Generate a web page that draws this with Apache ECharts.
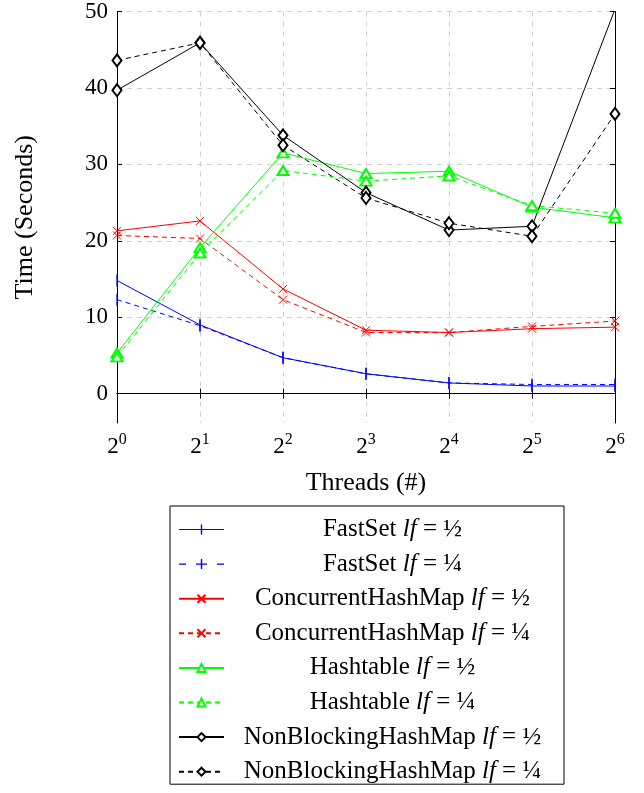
<!DOCTYPE html>
<html><head><meta charset="utf-8">
<script src="https://cdn.jsdelivr.net/npm/echarts@6/dist/echarts.min.js"></script>
<style>html,body{margin:0;padding:0;background:#fff}#c{width:644px;height:793px}</style>
</head><body><div id="c"></div>
<script>
const threads = [1, 2, 4, 8, 16, 32, 64];
const yTicks = [0, 10, 20, 30, 40, 50];
const fastSetHalf    = [14.8, 9.0, 4.7, 2.6, 1.4, 1.0, 1.0];
const fastSetQuarter = [12.3, 8.9, 4.7, 2.6, 1.4, 1.2, 1.2];
const chmHalf        = [21.3, 22.6, 13.7, 8.3, 8.0, 8.5, 8.7];
const chmQuarter     = [20.7, 20.3, 12.3, 8.0, 8.0, 8.8, 9.5];
const htHalf         = [5.3, 19.1, 31.5, 28.8, 29.1, 24.4, 23.0];
const htQuarter      = [4.8, 18.4, 29.2, 27.8, 28.5, 24.6, 23.6];
const nbhmHalf       = [39.7, 45.9, 33.8, 26.3, 21.4, 21.9, 50.3];
const nbhmQuarter    = [43.6, 45.9, 32.5, 25.6, 22.3, 20.6, 36.6];

const FONT = '"Liberation Serif", "DejaVu Serif", serif';
const pair = arr => threads.map((t, i) => [t, arr[i]]);
const nameOf = (base, frac) => base + ' lf = ' + frac;

const markers = {
  bar: 'rect',
  cross: 'path://M0,0L10,10M0,10L10,0',
  tri: 'emptyTriangle',
  dia: 'emptyDiamond'
};
// legend icons for the '|' mark (line sample + vertical tick), drawn in a 45x10 box
const barIconSolid = 'path://M0,4.5L45,4.5L45,5.6L0,5.6ZM21.8,0L23.2,0L23.2,10L21.8,10Z';
const barIconDashed = 'path://M0,4.5L7,4.5L7,5.6L0,5.6ZM17,4.5L28,4.5L28,5.6L17,5.6ZM38,4.5L45,4.5L45,5.6L38,5.6ZM21.8,0L23.2,0L23.2,10L21.8,10Z';

function mk(name, data, color, dashed, sym, size, filled) {
  return {
    name: name, type: 'line', data: pair(data),
    lineStyle: { color: color, width: 1, type: dashed ? [5, 4] : 'solid' },
    symbol: sym, symbolSize: size, showSymbol: true,
    clip: true,
    itemStyle: filled ? { color: color } : { color: color, borderColor: color, borderWidth: 1 },
    emphasis: { disabled: true }, animation: false, z: 3
  };
}

const series = [
  mk(nameOf('FastSet', '½'), fastSetHalf, '#0000ff', false, markers.bar, [1.3, 12], true),
  mk(nameOf('FastSet', '¼'), fastSetQuarter, '#0000ff', true, markers.bar, [1.3, 12], true),
  mk(nameOf('ConcurrentHashMap', '½'), chmHalf, '#ff0000', false, markers.cross, 8, false),
  mk(nameOf('ConcurrentHashMap', '¼'), chmQuarter, '#ff0000', true, markers.cross, 8, false),
  mk(nameOf('Hashtable', '½'), htHalf, '#00ff00', false, markers.tri, [11, 9], false),
  mk(nameOf('Hashtable', '¼'), htQuarter, '#00ff00', true, markers.tri, [11, 9], false),
  mk(nameOf('NonBlockingHashMap', '½'), nbhmHalf, '#000000', false, markers.dia, [9, 12], false),
  mk(nameOf('NonBlockingHashMap', '¼'), nbhmQuarter, '#000000', true, markers.dia, [9, 12], false)
];

const legendData = series.map((s, i) => {
  if (i === 0) return { name: s.name, icon: barIconSolid, itemStyle: { color: '#0000ff', borderWidth: 0 } };
  if (i === 1) return { name: s.name, icon: barIconDashed, itemStyle: { color: '#0000ff', borderWidth: 0 } };
  return { name: s.name };
});

const gridLine = { show: true, lineStyle: { color: '#cfcfcf', type: [5, 5], width: 1 } };
const axLine = { show: true, lineStyle: { color: '#000', width: 1 } };

const chart = echarts.init(document.getElementById('c'), null, { renderer: 'canvas' });
chart.setOption({
  backgroundColor: '#fff',
  animation: false,
  grid: { left: 117, right: 29, top: 10, bottom: 370 },
  xAxis: [{
    type: 'log', logBase: 2, min: 1, max: 64, splitNumber: 6,
    name: 'Threads (#)', nameLocation: 'middle', nameGap: 47,
    nameTextStyle: { fontFamily: FONT, fontSize: 26, color: '#000' },
    axisLine: axLine,
    axisTick: { show: true, inside: true, length: 5, lineStyle: { color: '#000' } },
    splitLine: gridLine,
    minorTick: { show: false },
    axisLabel: {
      margin: 9, color: '#000',
      formatter: v => '{b|2}{s|' + Math.round(Math.log2(v)) + '}',
      rich: {
        b: { fontFamily: FONT, fontSize: 23, color: '#000', verticalAlign: 'bottom', lineHeight: 26 },
        s: { fontFamily: FONT, fontSize: 16, color: '#000', verticalAlign: 'top', lineHeight: 26, padding: [0, 0, 10, 0] }
      }
    }
  }, {
    type: 'log', logBase: 2, min: 1, max: 64, splitNumber: 6, position: 'top',
    axisLine: axLine,
    axisTick: { show: true, inside: true, length: 5, lineStyle: { color: '#000' } },
    axisLabel: { show: false }, splitLine: { show: false }
  }],
  yAxis: [{
    type: 'value', min: -3.84, max: 50,
    name: 'Time (Seconds)', nameLocation: 'middle', nameGap: 79, nameRotate: 90,
    nameTextStyle: { fontFamily: FONT, fontSize: 26, color: '#000' },
    axisLine: axLine,
    axisTick: { show: true, inside: true, length: 5, lineStyle: { color: '#000' }, customValues: yTicks },
    axisLabel: { customValues: yTicks, fontFamily: FONT, fontSize: 23, color: '#000', margin: 9 },
    splitLine: gridLine
  }, {
    type: 'value', min: -3.84, max: 50, position: 'right',
    axisLine: axLine,
    axisTick: { show: true, inside: true, length: 5, lineStyle: { color: '#000' }, customValues: yTicks },
    axisLabel: { show: false, customValues: yTicks }, splitLine: { show: false }
  }],
  legend: {
    orient: 'vertical', left: 170, top: 506, height: 270,
    padding: [11, 8, 0, 8], itemGap: 9.6, itemWidth: 45, itemHeight: 10,
    borderColor: '#000', borderWidth: 1,
    selectedMode: false,
    formatter: name => {
      const parts = name.split(' lf = ');
      return '{t|' + parts[0] + ' }{i|lf}{t| = ' + parts[1] + '}';
    },
    textStyle: {
      width: 327, fontFamily: FONT, fontSize: 25, color: '#000', lineHeight: 25,
      rich: {
        t: { fontFamily: FONT, fontSize: 25, lineHeight: 25, color: '#000', align: 'center' },
        i: { fontFamily: FONT, fontSize: 25, lineHeight: 25, fontStyle: 'italic', color: '#000', align: 'center' }
      }
    },
    data: legendData
  },
  series: series
});
</script></body></html>
